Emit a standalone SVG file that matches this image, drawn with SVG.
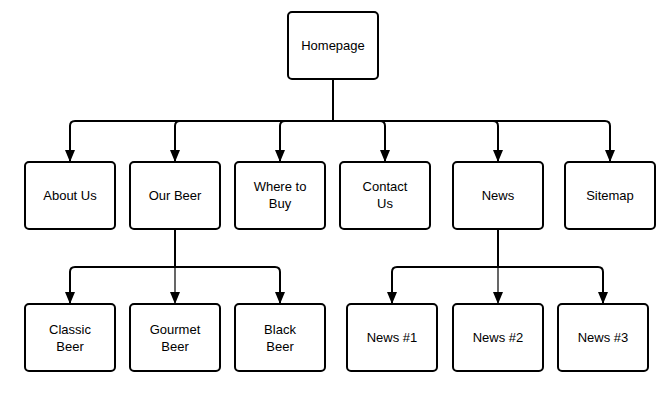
<svg xmlns="http://www.w3.org/2000/svg" width="671" height="403" viewBox="0 0 671 403">
<style>
.box{fill:#fff;stroke:#000;stroke-width:2}
.lbl{font-family:"Liberation Sans",Arial,sans-serif;font-size:13px;fill:#000;text-anchor:middle;dominant-baseline:central}
.con{fill:none;stroke:#000;stroke-width:2}
.thin{fill:none;stroke:#000;stroke-width:1.2}
</style>
<defs>
<marker id="ah" markerUnits="userSpaceOnUse" markerWidth="12" markerHeight="14" refX="12" refY="5" orient="auto" viewBox="0 0 12 10">
<path d="M0,0 L12,5 L0,10 Z" fill="#000"/>
</marker>
</defs>
<rect width="671" height="403" fill="#fff"/>
<g id="connectors">
<path class="con" d="M333,79 V121"/>
<path class="con" d="M333,121 H75 Q70,121 70,126 V162" marker-end="url(#ah)"/>
<path class="con" d="M333,121 H180 Q175,121 175,126 V162" marker-end="url(#ah)"/>
<path class="con" d="M333,121 H285 Q280,121 280,126 V162" marker-end="url(#ah)"/>
<path class="con" d="M333,121 H380 Q385,121 385,126 V162" marker-end="url(#ah)"/>
<path class="con" d="M333,121 H493 Q498,121 498,126 V162" marker-end="url(#ah)"/>
<path class="con" d="M333,121 H605 Q610,121 610,126 V162" marker-end="url(#ah)"/>
<path class="con" d="M175,229 V267"/>
<path class="con" d="M175,267 H75 Q70,267 70,272 V304" marker-end="url(#ah)"/>
<path class="thin" d="M175,267 V304" marker-end="url(#ah)"/>
<path class="con" d="M175,267 H275 Q280,267 280,272 V304" marker-end="url(#ah)"/>
<path class="con" d="M498,229 V267"/>
<path class="con" d="M498,267 H397 Q392,267 392,272 V304" marker-end="url(#ah)"/>
<path class="thin" d="M498,267 V304" marker-end="url(#ah)"/>
<path class="con" d="M498,267 H598 Q603,267 603,272 V304" marker-end="url(#ah)"/>
</g>
<g id="homepage"><rect class="box" x="288" y="12" width="90" height="67" rx="4"/><text class="lbl" x="333" y="45">Homepage</text></g>
<g id="about-us"><rect class="box" x="25" y="162" width="90" height="67" rx="4"/><text class="lbl" x="70" y="195">About Us</text></g>
<g id="our-beer"><rect class="box" x="130" y="162" width="90" height="67" rx="4"/><text class="lbl" x="175" y="195">Our Beer</text></g>
<g id="where-to-buy"><rect class="box" x="235" y="162" width="90" height="67" rx="4"/><text class="lbl" x="280" y="186">Where to</text><text class="lbl" x="280" y="203">Buy</text></g>
<g id="contact-us"><rect class="box" x="340" y="162" width="90" height="67" rx="4"/><text class="lbl" x="385" y="186">Contact</text><text class="lbl" x="385" y="203">Us</text></g>
<g id="news"><rect class="box" x="453" y="162" width="90" height="67" rx="4"/><text class="lbl" x="498" y="195">News</text></g>
<g id="sitemap"><rect class="box" x="565" y="162" width="90" height="67" rx="4"/><text class="lbl" x="610" y="195">Sitemap</text></g>
<g id="classic-beer"><rect class="box" x="25" y="304" width="90" height="67" rx="4"/><text class="lbl" x="70" y="329">Classic</text><text class="lbl" x="70" y="346">Beer</text></g>
<g id="gourmet-beer"><rect class="box" x="130" y="304" width="90" height="67" rx="4"/><text class="lbl" x="175" y="329">Gourmet</text><text class="lbl" x="175" y="346">Beer</text></g>
<g id="black-beer"><rect class="box" x="235" y="304" width="90" height="67" rx="4"/><text class="lbl" x="280" y="329">Black</text><text class="lbl" x="280" y="346">Beer</text></g>
<g id="news-1"><rect class="box" x="347" y="304" width="90" height="67" rx="4"/><text class="lbl" x="392" y="337">News #1</text></g>
<g id="news-2"><rect class="box" x="453" y="304" width="90" height="67" rx="4"/><text class="lbl" x="498" y="337">News #2</text></g>
<g id="news-3"><rect class="box" x="558" y="304" width="90" height="67" rx="4"/><text class="lbl" x="603" y="337">News #3</text></g>
</svg>
